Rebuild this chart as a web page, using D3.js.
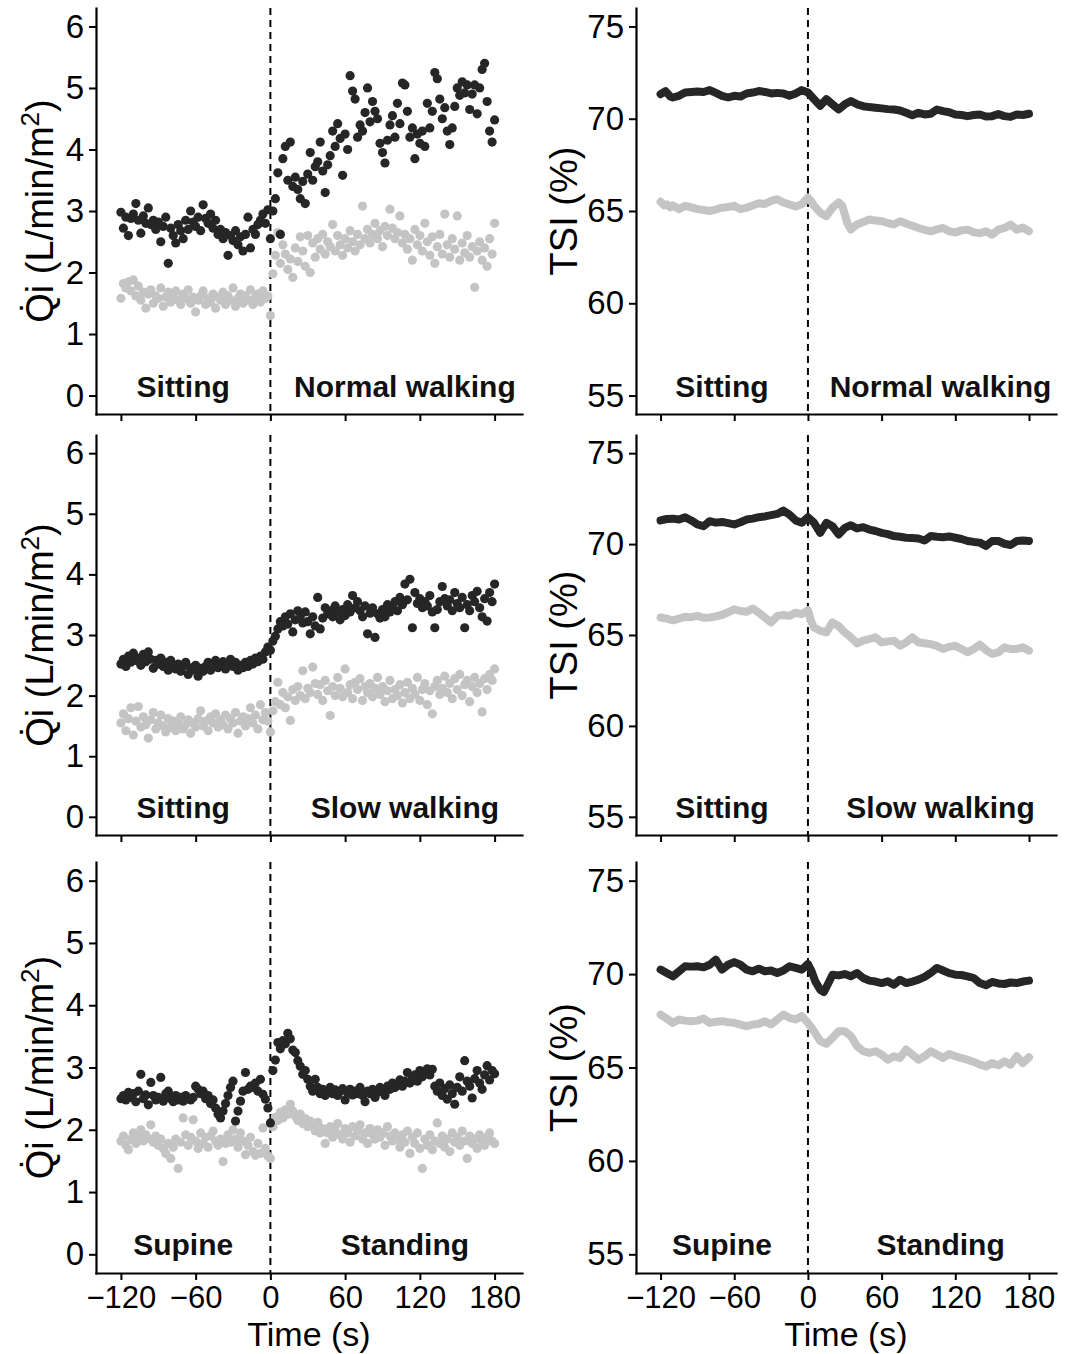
<!DOCTYPE html>
<html>
<head>
<meta charset="utf-8">
<script src="https://cdn.jsdelivr.net/npm/d3@7"></script>
<style>
  body { margin: 0; background: #fff; }
  text { font-family: "Liberation Sans", Arial, sans-serif; }
</style>
</head>
<body>
<svg id="fig" width="1067" height="1354"></svg>
<script>
// sample times of the Qi recordings (one point every 2 s)
const qiTimes = d3.range(-120, 181, 2);
const timeTicks = [-120, -60, 0, 60, 120, 180];
const qiTicks = [0, 1, 2, 3, 4, 5, 6];
const tsiTicks = [55, 60, 65, 70, 75];

// === Qi values (L/min/m2), -120 .. 180 s
const normalQiDark = [
  2.98,2.72,2.90,2.60,2.88,2.95,3.12,2.85,2.64,2.92,
  2.80,3.05,2.78,2.85,2.70,2.82,2.50,2.75,2.90,2.15,
  2.72,2.60,2.48,2.78,2.68,2.55,2.85,2.70,3.00,2.82,
  2.75,2.90,2.68,3.10,2.88,2.80,2.95,2.72,2.85,2.62,
  2.70,2.55,2.65,2.28,2.60,2.52,2.68,2.45,2.58,2.35,
  2.62,2.90,2.40,2.70,2.62,2.78,2.85,2.95,2.80,3.02,2.55,
  3.00,3.20,3.62,2.62,3.85,4.05,3.50,4.12,3.40,3.55,
  3.35,3.20,3.48,3.12,3.60,3.95,3.50,3.72,3.80,4.12,
  3.65,3.30,3.75,3.90,4.30,4.05,4.42,4.18,3.58,4.25,
  4.00,5.20,4.95,4.82,4.20,4.40,4.30,4.60,5.00,4.45,
  4.78,4.62,4.50,4.10,3.95,3.78,4.15,4.40,4.55,4.20,
  4.75,4.42,5.08,5.05,4.62,4.20,4.35,3.85,4.25,4.10,
  4.30,4.05,4.75,4.35,4.62,5.25,5.15,4.82,4.50,4.68,
  4.30,4.08,4.35,4.70,5.00,4.88,5.10,4.92,5.05,4.65,
  4.90,5.05,4.58,5.00,5.30,5.40,4.78,4.30,4.12,4.48
];
const normalQiGrey = [
  1.58,1.82,1.75,1.85,1.70,1.88,1.62,1.78,1.55,1.68,
  1.42,1.65,1.72,1.50,1.62,1.58,1.75,1.45,1.60,1.68,
  1.52,1.62,1.70,1.55,1.48,1.65,1.58,1.72,1.50,1.60,
  1.36,1.55,1.62,1.70,1.48,1.58,1.52,1.65,1.42,1.60,
  1.55,1.68,1.48,1.62,1.55,1.75,1.45,1.58,1.65,1.50,
  1.62,1.55,1.72,1.48,1.60,1.65,1.52,1.70,1.58,1.62,1.30,
  1.98,2.28,2.65,2.15,2.45,2.30,2.05,2.22,1.92,2.40,
  2.18,2.58,2.35,2.10,2.60,2.00,2.48,2.25,2.55,2.38,
  2.62,2.30,2.50,2.42,2.78,2.35,2.60,2.45,2.28,2.55,
  2.40,2.68,2.50,2.35,2.62,2.45,3.08,2.55,2.70,2.48,
  2.62,2.80,2.55,2.68,2.42,2.75,2.60,3.03,2.72,2.55,
  2.65,2.92,2.48,2.62,2.38,2.55,2.20,2.70,2.45,2.60,
  2.35,2.80,2.50,2.28,2.58,2.15,2.42,2.62,2.30,2.95,
  2.45,2.25,2.55,2.38,2.92,2.20,2.48,2.32,2.60,2.25,
  2.42,1.76,2.35,2.50,2.20,2.40,2.10,2.55,2.30,2.80
];
const slowQiDark = [
  2.52,2.60,2.48,2.65,2.55,2.70,2.58,2.62,2.50,2.68,
  2.56,2.72,2.60,2.45,2.58,2.52,2.62,2.48,2.55,2.42,
  2.58,2.50,2.44,2.52,2.40,2.48,2.55,2.35,2.46,2.42,
  2.50,2.32,2.45,2.40,2.48,2.55,2.42,2.52,2.58,2.46,
  2.50,2.56,2.44,2.52,2.60,2.48,2.55,2.42,2.50,2.46,
  2.55,2.48,2.58,2.52,2.62,2.56,2.65,2.60,2.72,2.80,2.75,
  2.90,2.98,3.10,3.22,3.15,3.30,3.18,3.35,3.05,3.25,
  3.40,3.28,3.20,3.38,3.22,3.02,3.30,3.15,3.62,3.10,
  3.28,3.45,3.35,3.40,3.30,3.48,3.38,3.25,3.42,3.32,
  3.50,3.38,3.65,3.45,3.55,3.40,3.30,3.48,3.02,3.36,
  3.45,2.96,3.35,3.28,3.42,3.30,3.50,3.38,3.45,3.55,
  3.40,3.62,3.50,3.84,3.58,3.92,3.12,3.70,3.52,3.60,
  3.45,3.55,3.48,3.65,3.38,3.12,3.42,3.55,3.80,3.60,
  3.48,3.58,3.40,3.70,3.52,3.45,3.62,3.12,3.50,3.40,
  3.65,3.55,3.72,3.45,3.30,3.60,3.23,3.70,3.55,3.84
];
const slowQiGrey = [
  1.55,1.70,1.42,1.62,1.80,1.35,1.58,1.82,1.48,1.65,
  1.52,1.30,1.60,1.72,1.45,1.55,1.68,1.50,1.40,1.62,
  1.48,1.58,1.42,1.55,1.65,1.45,1.52,1.60,1.38,1.55,
  1.48,1.62,1.75,1.50,1.58,1.42,1.65,1.55,1.70,1.48,
  1.60,1.52,1.68,1.45,1.62,1.55,1.72,1.38,1.58,1.65,
  1.50,1.62,1.80,1.55,1.68,1.45,1.85,1.60,1.72,1.58,1.40,
  1.75,1.90,2.22,1.85,2.05,1.80,1.98,1.59,2.10,1.92,
  2.15,2.00,2.41,1.95,2.12,2.05,2.47,2.20,2.02,2.18,
  1.92,2.25,2.08,1.67,2.15,2.00,2.30,2.12,1.98,2.44,
  2.05,2.18,1.95,2.22,2.10,2.28,1.92,2.15,2.05,2.20,
  1.98,2.12,2.30,2.02,2.15,1.90,2.08,2.25,1.95,2.10,
  2.00,2.18,1.88,2.05,2.22,1.95,2.12,2.02,2.30,1.92,
  2.10,2.20,1.85,2.08,1.70,2.15,2.25,2.02,2.12,2.32,
  2.05,2.20,1.95,2.28,2.10,2.35,2.00,2.18,2.25,1.90,
  2.15,2.30,2.05,2.20,1.73,2.28,2.10,2.35,2.25,2.44
];
const standQiDark = [
  2.50,2.55,2.48,2.60,2.52,2.58,2.45,2.62,2.89,2.50,
  2.56,2.40,2.76,2.55,2.48,2.52,2.84,2.46,2.58,2.62,
  2.50,2.45,2.55,2.48,2.52,2.46,2.55,2.50,2.48,2.52,
  2.70,2.65,2.58,2.62,2.50,2.55,2.42,2.48,2.35,2.25,
  2.19,2.30,2.42,2.55,2.68,2.78,2.14,2.30,2.46,2.62,
  2.92,2.65,2.70,2.68,2.75,2.62,2.81,2.57,2.49,2.35,2.11,
  2.95,3.12,3.40,3.30,3.43,3.38,3.55,3.46,3.28,3.24,
  3.11,3.02,2.89,2.95,2.81,2.70,2.62,2.81,2.68,2.58,
  2.65,2.55,2.62,2.68,2.58,2.64,2.55,2.62,2.66,2.48,
  2.60,2.65,2.56,2.62,2.58,2.68,2.55,2.45,2.62,2.58,
  2.65,2.52,2.60,2.68,2.62,2.55,2.70,2.65,2.75,2.68,
  2.72,2.80,2.70,2.78,2.92,2.75,2.82,2.88,2.78,2.95,
  2.85,2.90,2.98,2.88,2.97,2.70,2.62,2.75,2.55,2.66,
  2.49,2.72,2.58,2.41,2.68,2.85,2.62,3.11,2.78,2.70,
  2.51,2.82,2.95,2.75,2.65,2.88,3.03,2.80,2.95,2.90
];
const standQiGrey = [
  1.82,1.90,1.75,1.68,1.85,1.95,1.78,1.88,2.00,1.82,
  1.92,1.86,2.08,1.80,1.90,1.75,1.85,1.70,1.62,1.78,
  1.54,1.72,1.85,1.38,1.80,2.19,1.92,1.75,1.88,2.16,
  1.82,1.70,1.95,1.78,1.88,1.72,1.90,1.98,1.82,1.75,
  1.85,1.49,1.78,1.92,1.80,2.00,1.85,1.72,1.95,1.82,
  1.60,1.75,1.88,1.65,1.59,1.78,1.62,2.03,1.70,1.58,1.54,
  2.05,2.20,2.15,2.28,2.19,2.32,2.25,2.41,2.30,2.22,
  2.15,2.25,2.10,2.18,2.05,2.14,2.08,1.98,2.12,1.95,
  2.02,1.78,1.95,2.05,1.88,1.98,2.10,1.92,1.85,2.02,
  1.95,1.80,2.05,1.90,1.98,2.08,1.85,1.95,1.78,2.02,
  1.92,1.85,2.00,1.88,1.95,1.75,2.05,1.90,1.82,1.95,
  1.85,1.72,1.92,1.80,1.98,1.62,1.88,1.78,1.95,1.70,
  1.38,1.85,1.75,1.92,1.68,1.82,2.11,1.78,1.90,1.72,
  1.85,1.65,1.95,1.80,1.88,1.75,1.98,1.82,1.54,1.90,
  1.78,1.85,1.70,1.92,1.80,1.75,1.88,1.95,1.82,1.78
];

// === TSI (%) traces, [time (s), value]
const normalTsiDark = [[-120,71.33],[-116,71.50],[-112,71.20],[-110,71.15],[-105,71.24],[-100,71.42],[-95,71.45],[-90,71.48],[-85,71.45],[-80,71.55],[-75,71.40],[-70,71.24],[-65,71.15],[-60,71.24],[-55,71.20],[-50,71.37],[-45,71.42],[-40,71.50],[-35,71.45],[-30,71.37],[-25,71.40],[-20,71.37],[-15,71.24],[-10,71.37],[-5,71.55],[0,71.42],[5,71.06],[10,70.70],[15,71.06],[20,70.78],[25,70.50],[30,70.78],[35,70.96],[40,70.78],[45,70.68],[50,70.63],[55,70.60],[60,70.56],[65,70.52],[70,70.50],[75,70.45],[80,70.32],[85,70.19],[90,70.32],[95,70.23],[100,70.27],[105,70.50],[110,70.41],[115,70.35],[120,70.23],[125,70.20],[130,70.14],[135,70.20],[140,70.23],[145,70.12],[150,70.14],[155,70.25],[160,70.14],[165,70.10],[170,70.23],[175,70.20],[180,70.27]];
const normalTsiGrey = [[-120,65.50],[-117,65.30],[-115,65.36],[-112,65.20],[-110,65.31],[-105,65.10],[-100,65.28],[-95,65.20],[-90,65.10],[-85,65.05],[-80,65.00],[-75,65.08],[-70,65.18],[-65,65.22],[-60,65.28],[-55,65.10],[-50,65.18],[-45,65.30],[-40,65.42],[-35,65.38],[-30,65.55],[-25,65.64],[-20,65.46],[-15,65.35],[-10,65.24],[-5,65.37],[0,65.73],[3,65.50],[5,65.28],[10,64.91],[15,64.72],[20,65.18],[25,65.46],[28,65.28],[32,64.36],[35,64.00],[40,64.27],[45,64.40],[50,64.54],[55,64.48],[60,64.45],[65,64.35],[70,64.27],[75,64.45],[80,64.32],[85,64.20],[90,64.08],[95,63.98],[100,63.90],[105,64.00],[110,64.08],[115,63.90],[120,63.84],[125,63.95],[130,63.99],[135,63.85],[140,63.80],[145,63.90],[150,63.72],[155,63.99],[160,64.08],[165,64.27],[170,63.99],[175,64.10],[180,63.90]];
const slowTsiDark = [[-120,71.30],[-115,71.38],[-110,71.40],[-105,71.35],[-100,71.48],[-95,71.30],[-90,71.08],[-85,70.98],[-80,71.26],[-75,71.18],[-70,71.22],[-65,71.15],[-60,71.08],[-55,71.20],[-50,71.35],[-45,71.40],[-40,71.48],[-35,71.52],[-30,71.59],[-25,71.66],[-20,71.84],[-15,71.62],[-10,71.30],[-5,71.17],[0,71.48],[5,71.17],[10,70.62],[15,71.17],[20,70.98],[25,70.53],[30,70.89],[35,71.04],[40,70.86],[45,70.93],[50,70.80],[55,70.72],[60,70.62],[65,70.55],[70,70.44],[75,70.40],[80,70.35],[85,70.33],[90,70.31],[95,70.20],[100,70.44],[105,70.40],[110,70.38],[115,70.42],[120,70.35],[125,70.28],[130,70.17],[135,70.12],[140,70.08],[145,69.90],[150,70.17],[155,70.17],[160,70.02],[165,69.95],[170,70.17],[175,70.20],[180,70.17]];
const slowTsiGrey = [[-120,65.96],[-115,65.90],[-110,65.81],[-105,65.90],[-100,66.00],[-95,65.98],[-90,66.05],[-85,65.95],[-80,65.96],[-75,66.02],[-70,66.10],[-65,66.25],[-60,66.41],[-55,66.32],[-50,66.28],[-45,66.46],[-40,66.23],[-35,65.96],[-30,65.69],[-25,66.05],[-20,66.10],[-15,66.05],[-10,66.23],[-5,66.14],[0,66.36],[3,65.69],[5,65.41],[10,65.23],[15,65.14],[20,65.69],[25,65.50],[30,65.14],[35,64.87],[40,64.54],[45,64.69],[50,64.78],[55,64.87],[60,64.60],[65,64.65],[70,64.69],[75,64.41],[80,64.60],[85,64.87],[90,64.60],[95,64.55],[100,64.50],[105,64.40],[110,64.23],[115,64.35],[120,64.41],[125,64.23],[130,64.05],[135,64.23],[140,64.47],[145,64.17],[150,63.96],[155,64.05],[160,64.32],[165,64.23],[170,64.23],[175,64.32],[180,64.14]];
const standTsiDark = [[-120,70.24],[-115,70.06],[-110,69.88],[-105,70.15],[-100,70.42],[-95,70.40],[-90,70.42],[-85,70.36],[-80,70.50],[-75,70.77],[-70,70.24],[-65,70.50],[-60,70.64],[-55,70.50],[-50,70.24],[-45,70.15],[-40,70.29],[-35,70.15],[-30,70.19],[-25,70.06],[-20,70.19],[-15,70.42],[-10,70.33],[-5,70.24],[0,70.54],[3,70.15],[6,69.61],[10,69.16],[13,69.04],[16,69.43],[20,69.97],[25,69.93],[30,70.00],[35,69.88],[40,70.06],[45,69.79],[50,69.65],[55,69.60],[60,69.52],[65,69.61],[70,69.43],[75,69.70],[80,69.52],[85,69.60],[90,69.70],[95,69.85],[100,70.06],[105,70.33],[110,70.19],[115,70.05],[120,69.97],[125,69.95],[130,69.88],[135,69.79],[140,69.52],[145,69.40],[150,69.58],[155,69.50],[160,69.47],[165,69.55],[170,69.52],[175,69.60],[180,69.65]];
const standTsiGrey = [[-120,67.83],[-115,67.62],[-110,67.39],[-105,67.57],[-100,67.51],[-95,67.48],[-90,67.51],[-85,67.62],[-80,67.39],[-75,67.45],[-70,67.48],[-65,67.42],[-60,67.39],[-55,67.30],[-50,67.21],[-45,67.30],[-40,67.34],[-35,67.48],[-30,67.30],[-25,67.57],[-20,67.83],[-15,67.66],[-10,67.57],[-5,67.75],[0,67.39],[5,66.94],[10,66.41],[15,66.27],[20,66.59],[25,66.94],[30,66.94],[35,66.68],[40,66.14],[45,65.87],[50,65.78],[55,65.87],[60,65.69],[65,65.42],[70,65.60],[75,65.51],[80,65.96],[85,65.69],[90,65.42],[95,65.60],[100,65.87],[105,65.69],[110,65.51],[115,65.72],[120,65.60],[125,65.50],[130,65.42],[135,65.30],[140,65.15],[145,65.06],[150,65.24],[155,65.12],[160,65.33],[165,65.15],[170,65.60],[175,65.24],[180,65.55]];

const phaseLabels = [["Sitting", "Normal walking"], ["Sitting", "Slow walking"], ["Supine", "Standing"]];

const darkCol = "#262626", greyCol = "#c4c4c4";
const svg = d3.select("#fig");
const timeDomain = [-140, 202];
const colX = [[96, 522], [636, 1056]];
const rowY = [[8, 414], [435, 835], [862, 1273]];

const panels = [
  {row: 0, col: 0, kind: "qi",  dark: normalQiDark, grey: normalQiGrey},
  {row: 0, col: 1, kind: "tsi", dark: normalTsiDark, grey: normalTsiGrey},
  {row: 1, col: 0, kind: "qi",  dark: slowQiDark, grey: slowQiGrey},
  {row: 1, col: 1, kind: "tsi", dark: slowTsiDark, grey: slowTsiGrey},
  {row: 2, col: 0, kind: "qi",  dark: standQiDark, grey: standQiGrey},
  {row: 2, col: 1, kind: "tsi", dark: standTsiDark, grey: standTsiGrey}
];

panels.forEach(p => drawPanel(p));

function drawPanel(p) {
  const [left, right] = colX[p.col];
  const [top, bottom] = rowY[p.row];
  const isQi = p.kind === "qi";
  const x = d3.scaleLinear().domain(timeDomain).range([left, right]);
  const y = d3.scaleLinear().domain(isQi ? [-0.3, 6.3] : [54, 76]).range([bottom, top]);
  const g = svg.append("g");

  // onset of the new posture
  g.append("line")
    .attr("x1", x(0)).attr("x2", x(0))
    .attr("y1", top).attr("y2", bottom)
    .attr("stroke", "#000").attr("stroke-width", 2)
    .attr("stroke-dasharray", "7,5");

  if (isQi) {
    [[p.grey, greyCol], [p.dark, darkCol]].forEach(([vals, col]) => {
      g.append("g").selectAll("circle")
        .data(vals)
        .join("circle")
          .attr("cx", (d, i) => x(qiTimes[i]))
          .attr("cy", d => y(d))
          .attr("r", 4.6)
          .attr("fill", col);
    });
  } else {
    const line = d3.line().x(d => x(d[0])).y(d => y(d[1]));
    [[p.grey, greyCol], [p.dark, darkCol]].forEach(([vals, col]) => {
      g.append("path")
        .attr("d", line(vals))
        .attr("fill", "none")
        .attr("stroke", col)
        .attr("stroke-width", 8)
        .attr("stroke-linejoin", "round")
        .attr("stroke-linecap", "round");
    });
  }

  // phase labels
  const labY = y(isQi ? 0 : 55) + 1;
  phaseLabels[p.row].forEach((lab, i) => {
    g.append("text")
      .attr("x", x(i === 0 ? -70 : 108))
      .attr("y", labY)
      .attr("text-anchor", "middle")
      .attr("font-size", 30)
      .attr("font-weight", "bold")
      .attr("fill", "#111")
      .text(lab);
  });

  // axes
  const xAxis = d3.axisBottom(x).tickValues(timeTicks).tickSize(7).tickSizeOuter(0).tickPadding(6);
  if (p.row < 2) xAxis.tickFormat("");
  const gx = g.append("g").attr("transform", `translate(0,${bottom})`).call(xAxis);
  const yAxis = d3.axisLeft(y).tickValues(isQi ? qiTicks : tsiTicks).tickFormat(d3.format("d"))
    .tickSize(7).tickSizeOuter(0).tickPadding(5);
  const gy = g.append("g").attr("transform", `translate(${left},0)`).call(yAxis);

  gx.attr("font-size", 31);
  gy.attr("font-size", 33);
  [gx, gy].forEach(a => {
    a.attr("font-family", '"Liberation Sans", Arial, sans-serif');
    a.select(".domain").attr("stroke", "#000").attr("stroke-width", 2.2).attr("stroke-linecap", "square");
    a.selectAll(".tick line").attr("stroke", "#000").attr("stroke-width", 2);
    a.selectAll(".tick text").attr("fill", "#000");
  });

  // axis titles
  const midY = (top + bottom) / 2;
  const yt = g.append("text")
    .attr("transform", `translate(${isQi ? 53 : 577},${midY}) rotate(-90)`)
    .attr("text-anchor", "middle")
    .attr("font-size", 38)
    .attr("fill", "#000");
  if (isQi) {
    yt.append("tspan").text("Q\u0307i (L/min/m");
    yt.append("tspan").attr("dy", -14).attr("font-size", 26).text("2");
    yt.append("tspan").attr("dy", 14).text(")");
  } else {
    yt.text("TSI (%)");
  }

  if (p.row === 2) {
    g.append("text")
      .attr("x", (left + right) / 2)
      .attr("y", 1346)
      .attr("text-anchor", "middle")
      .attr("font-size", 34)
      .attr("fill", "#000")
      .text("Time (s)");
  }
}
</script>
</body>
</html>
